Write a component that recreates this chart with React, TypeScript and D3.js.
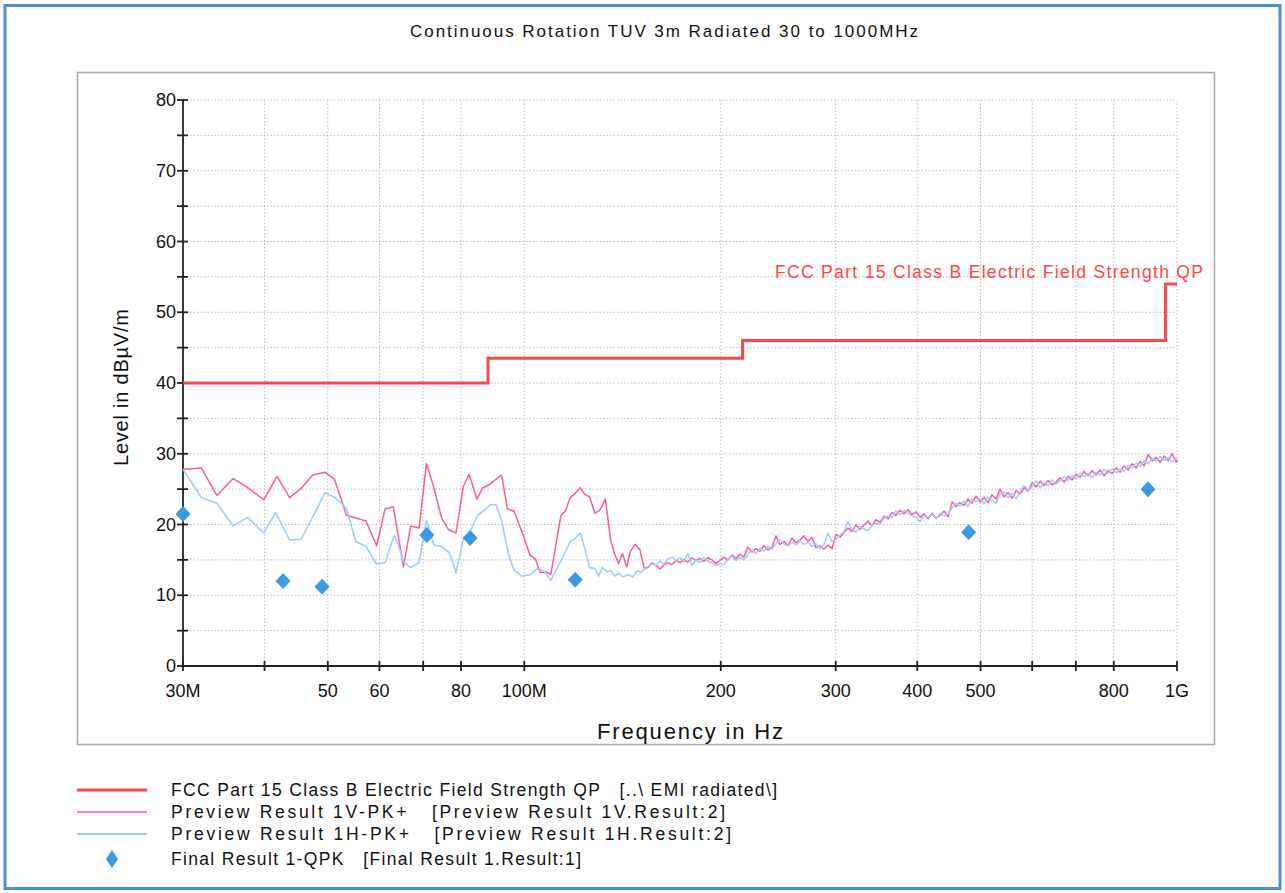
import React from "react";
import * as d3 from "d3";

const TITLE = "Continuous Rotation TUV 3m Radiated 30 to 1000MHz";
const X_LABEL = "Frequency in Hz";
const Y_LABEL = "Level in dBµV/m";
const LIMIT_LABEL = "FCC Part 15 Class B Electric Field Strength QP";

const yTicks = [0, 10, 20, 30, 40, 50, 60, 70, 80];
const yMinorTicks = [5, 15, 25, 35, 45, 55, 65, 75];
const xTickValues = [30, 40, 50, 60, 70, 80, 100, 200, 300, 400, 500, 600, 700, 800, 1000];
const xTickLabels: Record<number, string> = { 30: "30M", 50: "50", 60: "60", 80: "80", 100: "100M", 200: "200", 300: "300", 400: "400", 500: "500", 800: "800", 1000: "1G" };
const xGridValues = [40, 50, 60, 70, 80, 100, 200, 300, 400, 500, 600, 700, 800, 1000];

// FCC limit (MHz, dB) – step after
const limitData: [number, number][] = [[30, 40], [88, 43.5], [216, 46], [960, 54], [1000, 54]];

// Preview Result 1V-PK+
const pinkData: [number, number][] = [
  [30, 27.8], [32.0, 28.0], [33.8, 24.1], [35.8, 26.5], [37.7, 25.2], [39.9, 23.5], [41.8, 26.8], [43.7, 23.8], [45.5, 25.1], [47.4, 27.0],
  [49.5, 27.4], [51.2, 26.4], [53.4, 21.3], [57.2, 20.5], [59.4, 17.0], [61.2, 22.2], [63.0, 22.5], [65.3, 14.0], [67.0, 19.8], [69.0, 19.5],
  [70.8, 28.6], [72.5, 25.6], [74.7, 20.9], [76.5, 19.3], [78.6, 18.8], [80.6, 25.3], [82.3, 27.1], [84.6, 23.6], [86.4, 25.2], [88.6, 25.7],
  [90.5, 26.4], [92.3, 27.0], [94.2, 22.2], [96.4, 21.9], [99.7, 18.4], [102, 15.7], [104, 15.1], [105.8, 13.2], [108, 13.3], [109.8, 12.9],
  [113.8, 21.3], [115.6, 21.9], [117.6, 23.8], [119.6, 24.4], [121.8, 25.2], [123.7, 24.3], [125.9, 23.9], [128.3, 21.6], [130.5, 22.0], [133.1, 23.6],
  [135.6, 17.8], [137.7, 15.7], [139.5, 14.5], [141.4, 15.9], [143.5, 14.0], [145.4, 16.2], [147.9, 17.2], [150.4, 16.4], [152.7, 13.8],
  [154.8, 14.0], [157, 14.6], [159.2, 14.2], [161.4, 13.7], [163.7, 14.3], [166, 14.6], [168.4, 14.3], [170.8, 14.9], [173.2, 14.6], [175.6, 15.0],
  [178.1, 14.7], [180.6, 15.3], [183.2, 14.9], [185.8, 15.2], [188.4, 14.8], [191.1, 15.3], [193.8, 15.0], [196.6, 14.5], [199.4, 14.9], [202.2, 15.4],
  [205.1, 15.0], [208, 15.7], [211, 15.2], [214, 15.8], [217, 15.4], [220.1, 16.8], [223.3, 16.1], [226.4, 16.6], [229.7, 16.2], [232.9, 17.0],
  [236.2, 16.4], [239.6, 16.8], [243, 18.4], [246.4, 17.2], [250, 17.6], [253.5, 17.0], [257.1, 18.1], [260.8, 17.4], [264.5, 17.8], [268.2, 18.4],
  [272, 17.6], [275.9, 18.2], [279.8, 16.7], [283.8, 17.0], [287.8, 16.5], [291.9, 17.1], [296.1, 16.6], [300.3, 18.6], [304.6, 18.2], [308.9, 18.9],
  [313.3, 19.5], [317.7, 19.0], [322.2, 20.0], [326.8, 19.3], [331.4, 19.9], [336.1, 20.5], [340.9, 19.8], [345.8, 20.7], [350.7, 20.3], [355.7, 21.2],
  [360.7, 20.8], [365.8, 21.7], [371, 21.3], [376.4, 22.0], [381.7, 21.5], [387.1, 22.1], [392.6, 21.4], [398.2, 21.8], [404, 21.0], [409.7, 21.5],
  [415.6, 20.8], [421.5, 21.6], [427.5, 20.9], [433.5, 21.3], [439.7, 21.9], [445.9, 21.1], [452.3, 23.2], [458.7, 22.5], [465.1, 23.1], [471.8, 22.7],
  [478.4, 23.6], [485.2, 23.0], [492.1, 24.0], [499.2, 23.2], [506.2, 23.8], [513.4, 23.1], [520.7, 24.2], [528.2, 23.6], [535.7, 25.0], [543.3, 23.9],
  [551, 24.5], [558.9, 23.7], [566.8, 24.8], [574.9, 24.3], [583.1, 25.2], [591.4, 24.7], [599.8, 25.9], [608.3, 25.3], [616.9, 26.1], [625.7, 25.5],
  [634.6, 26.2], [643.6, 25.6], [652.7, 26.0], [662.2, 26.6], [671.5, 26.0], [681, 26.8], [690.7, 26.3], [700.6, 27.1], [710.5, 26.7], [720.6, 27.5],
  [730.9, 26.9], [741.3, 27.6], [751.8, 27.0], [762.4, 27.7], [773.3, 26.9], [784.3, 27.6], [795.4, 27.2], [806.7, 28.0], [818.2, 27.4], [829.8, 28.3],
  [841.6, 27.7], [853.6, 28.6], [865.7, 28.0], [878, 28.9], [890.5, 28.3], [903.2, 29.9], [916, 29.0], [929.1, 29.5], [942.2, 28.8], [955.7, 29.7],
  [969.2, 29.0], [983, 30.0], [997, 28.8], [1000, 29.2],
];

// Preview Result 1H-PK+
const blueData: [number, number][] = [
  [30, 27.8], [32.0, 23.8], [33.8, 23.0], [35.8, 19.8], [37.7, 21.0], [39.9, 18.8], [41.6, 21.7], [43.7, 17.8], [45.5, 17.9], [47.5, 21.2],
  [49.5, 24.5], [51.3, 23.8], [53.4, 22.3], [55.2, 17.6], [57.2, 16.9], [59.4, 14.4], [61.2, 14.6], [63.2, 18.5], [64.5, 16.4], [65.3, 14.7],
  [67.0, 13.9], [69.0, 14.6], [70.8, 20.6], [72.7, 17.1], [74.7, 16.9], [76.8, 16.0], [78.6, 13.2], [80.6, 17.8], [82.3, 18.6], [84.8, 21.3],
  [87.0, 22.1], [88.8, 22.8], [90.5, 22.8], [92.3, 20.6], [94.5, 15.9], [96.4, 13.6], [99, 12.7], [102, 12.9], [104.5, 13.7], [107, 13.5],
  [109.8, 12.1], [112.2, 13.8], [115, 15.7], [117.6, 17.6], [119.6, 18.0], [121.8, 18.8], [124, 16.4], [125.9, 13.9], [128.2, 13.8], [130, 12.7],
  [131.7, 13.9], [134, 13.3], [135.6, 13.5], [137.7, 12.7], [139.5, 13.1], [141.6, 12.6], [144.3, 12.9], [146.6, 12.6], [149, 13.5], [150.8, 13.2],
  [152.7, 13.7], [154.8, 13.9], [157, 14.5], [159.2, 14.2], [161.4, 14.8], [163.7, 14.4], [166, 15.1], [168.4, 15.4], [170.8, 14.9], [173.2, 15.3],
  [175.6, 14.8], [178.1, 15.9], [180.6, 14.2], [183.2, 15.0], [185.8, 14.6], [188.4, 15.3], [191.1, 14.8], [193.8, 14.6], [196.6, 14.2], [199.4, 14.5],
  [202.2, 14.3], [205.1, 15.1], [208, 15.5], [211, 14.9], [214, 15.4], [217, 15.0], [220.1, 15.8], [223.3, 16.4], [226.4, 15.9], [229.7, 16.6],
  [232.9, 16.2], [236.2, 16.9], [239.6, 16.5], [243, 17.3], [246.4, 17.9], [250, 17.2], [253.5, 17.0], [257.1, 17.5], [260.8, 17.1], [264.5, 17.7],
  [268.2, 17.2], [272, 17.5], [275.9, 16.9], [279.8, 17.3], [283.8, 16.6], [287.8, 17.1], [291.9, 18.8], [296.1, 17.6], [300.3, 17.9], [304.6, 18.5],
  [308.9, 19.0], [313.3, 20.4], [317.7, 19.2], [322.2, 18.9], [326.8, 19.7], [331.4, 19.4], [336.1, 19.1], [340.9, 19.9], [345.8, 20.2], [350.7, 20.0],
  [355.7, 20.9], [360.7, 21.2], [365.8, 21.0], [371, 21.9], [376.4, 21.4], [381.7, 22.0], [387.1, 21.6], [392.6, 21.2], [398.2, 21.0], [404, 20.4],
  [409.7, 21.3], [415.6, 21.0], [421.5, 21.4], [427.5, 20.8], [433.5, 21.6], [439.7, 21.2], [445.9, 21.5], [452.3, 22.4], [458.7, 23.0], [465.1, 22.6],
  [471.8, 23.3], [478.4, 22.5], [485.2, 23.6], [492.1, 23.2], [499.2, 23.7], [506.2, 22.9], [513.4, 23.9], [520.7, 23.4], [528.2, 23.0], [535.7, 24.3],
  [543.3, 24.6], [551, 23.8], [558.9, 24.4], [566.8, 23.6], [574.9, 24.6], [583.1, 25.5], [591.4, 24.8], [599.8, 25.4], [608.3, 26.2], [616.9, 25.2],
  [625.7, 25.9], [634.6, 25.5], [643.6, 26.3], [652.7, 25.7], [662.2, 26.2], [671.5, 26.8], [681, 26.2], [690.7, 26.9], [700.6, 26.5], [710.5, 27.3],
  [720.6, 26.7], [730.9, 27.2], [741.3, 26.6], [751.8, 27.4], [762.4, 27.0], [773.3, 27.8], [784.3, 27.2], [795.4, 27.9], [806.7, 27.3], [818.2, 27.8],
  [829.8, 27.5], [841.6, 28.4], [853.6, 28.0], [865.7, 28.7], [878, 28.2], [890.5, 29.0], [903.2, 28.6], [916, 29.4], [929.1, 28.9], [942.2, 29.6],
  [955.7, 29.1], [969.2, 29.4], [983, 28.8], [1000, 29.5],
];

// Final Result 1-QPK
const qpkFreq = [30, 42.7, 49.0, 70.9, 82.6, 119.7, 479.5, 903];
const qpkLevel = [21.5, 12.0, 11.2, 18.5, 18.1, 12.2, 18.9, 25.0];

const legendLabels = [
  "FCC Part 15 Class B Electric Field Strength QP   [..\\ EMI radiated\\]",
  "Preview Result 1V-PK+   [Preview Result 1V.Result:2]",
  "Preview Result 1H-PK+   [Preview Result 1H.Result:2]",
  "Final Result 1-QPK   [Final Result 1.Result:1]",
];
const legendKinds = ["limit", "pink", "blue", "qpk"];

const RED = "#ff4646";
const PINK = "#ff5c8a";
const LIGHTBLUE = "#99ccff";
const DIAMOND = "#3d9ae0";
const FONT = "'Liberation Sans', Arial, sans-serif";

export default function App() {
  const W = 1285, H = 893;
  const x = d3.scaleLog().domain([30, 1000]).range([183, 1177]);
  const y = d3.scaleLinear().domain([0, 80]).range([666, 100]);
  const line = d3.line<[number, number]>().x(d => x(d[0])).y(d => y(d[1]));
  const stepLine = d3.line<[number, number]>().x(d => x(d[0])).y(d => y(d[1])).curve(d3.curveStepAfter);
  const diamond = (cx: number, cy: number, hw: number, hh: number) =>
    `M${cx},${cy - hh}L${cx + hw},${cy}L${cx},${cy + hh}L${cx - hw},${cy}Z`;

  const [x0, x1] = x.range();
  const [y0, y1] = y.range();
  const legendY = [790, 812, 834, 859];
  const legendLen = [606, 554, 560, 410];
  const pre = { whiteSpace: "pre" as const };

  return (
    <svg width={W} height={H} style={{ position: "absolute", left: 0, top: 0, background: "#fff" }} fontFamily={FONT}>
      <rect x={0} y={0} width={W} height={H} fill="#fff" />
      <rect x={5} y={5.5} width={1275} height={883} fill="none" stroke="#4f8ed8" strokeWidth={3} />
      <text x={410} y={37} fontSize={17} textLength={508} lengthAdjust="spacing" fill="#111">{TITLE}</text>
      <rect x={77.5} y={72.5} width={1137} height={672} fill="#fff" stroke="#a8a8a8" strokeWidth={1.5} />

      {/* grid */}
      <g stroke="#bdbdbd" strokeWidth={1} strokeDasharray="1.5,2">
        {[...yTicks, ...yMinorTicks].filter(v => v > 0).map(v => (
          <line key={"gy" + v} x1={x0} x2={x1} y1={y(v)} y2={y(v)} />
        ))}
        {xGridValues.map(v => (
          <line key={"gx" + v} x1={x(v)} x2={x(v)} y1={y1} y2={y0} />
        ))}
      </g>

      {/* axes */}
      <g stroke="#222" strokeWidth={1.8}>
        <line x1={x0} x2={x0} y1={y1} y2={y0} />
        <line x1={x0} x2={x1} y1={y0} y2={y0} />
        {[...yTicks, ...yMinorTicks].map(v => (
          <line key={"ty" + v} x1={x0 - 6} x2={x0 + 5} y1={y(v)} y2={y(v)} />
        ))}
        {xTickValues.map(v => (
          <line key={"tx" + v} x1={x(v)} x2={x(v)} y1={y0 - 5} y2={y0 + 5} />
        ))}
      </g>
      <g fontSize={18} fill="#111">
        {yTicks.map(v => (
          <text key={"ly" + v} x={x0 - 7} y={y(v) + 6} textAnchor="end">{v}</text>
        ))}
        {xTickValues.filter(v => xTickLabels[v]).map(v => (
          <text key={"lx" + v} x={x(v)} y={y0 + 31} textAnchor="middle">{xTickLabels[v]}</text>
        ))}
      </g>
      <text x={597} y={739} fontSize={22} textLength={186} lengthAdjust="spacing" fill="#111">{X_LABEL}</text>
      <text transform={`translate(128,466) rotate(-90)`} fontSize={20} textLength={157} lengthAdjust="spacing" fill="#111">{Y_LABEL}</text>

      {/* data */}
      <path d={stepLine(limitData) || ""} fill="none" stroke={RED} strokeWidth={3} />
      <text x={775} y={278} fontSize={17.5} textLength={428} lengthAdjust="spacing" fill={RED}>{LIMIT_LABEL}</text>
      <path d={line(pinkData) || ""} fill="none" stroke={PINK} strokeWidth={1.5} strokeLinejoin="round" />
      <path d={line(blueData) || ""} fill="none" stroke={LIGHTBLUE} strokeWidth={1.5} strokeLinejoin="round" />
      {qpkFreq.map((f, i) => (
        <path key={"q" + i} d={diamond(x(f), y(qpkLevel[i]), 7.5, 8)} fill={DIAMOND} />
      ))}

      {/* legend */}
      <g fontSize={17.5} fill="#111">
        {legendLabels.map((label, i) => (
          <g key={"lg" + i}>
            {legendKinds[i] === "limit" && <line x1={77} x2={147} y1={legendY[i]} y2={legendY[i]} stroke={RED} strokeWidth={3} />}
            {legendKinds[i] === "pink" && <line x1={77} x2={147} y1={legendY[i]} y2={legendY[i]} stroke={PINK} strokeWidth={1.5} />}
            {legendKinds[i] === "blue" && <line x1={77} x2={147} y1={legendY[i]} y2={legendY[i]} stroke={LIGHTBLUE} strokeWidth={2} />}
            {legendKinds[i] === "qpk" && <path d={diamond(112, legendY[i], 6, 9)} fill={DIAMOND} />}
            <text x={171} y={legendY[i] + 6} textLength={legendLen[i]} lengthAdjust="spacing" style={pre}>{label}</text>
          </g>
        ))}
      </g>
    </svg>
  );
}
